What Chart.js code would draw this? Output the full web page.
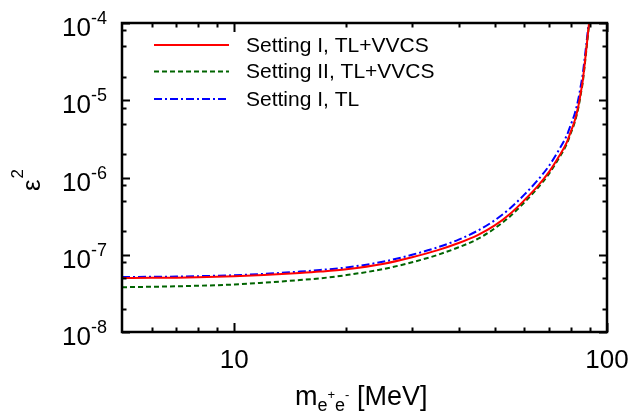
<!DOCTYPE html>
<html>
<head>
<meta charset="utf-8">
<script src="https://cdn.jsdelivr.net/npm/chart.js@4/dist/chart.umd.min.js"></script>
<style>
  body { margin: 0; background: #fff; }
  #wrap { width: 634px; height: 416px; }
</style>
</head>
<body>
<div id="wrap"><canvas id="chart"></canvas></div>
<script>
// m_e+e- in MeV
var masses = [5, 6, 7, 8, 10, 12, 15, 17, 20, 25, 30, 35, 40, 45, 50, 55, 60, 65, 70, 74, 78, 80, 82, 84, 85, 86, 87, 88, 89, 89.6, 90];

// epsilon^2 values
var setting1Full = [5.0e-8, 5.02e-8, 5.05e-8, 5.1e-8, 5.25e-8, 5.45e-8, 5.8e-8, 6.05e-8, 6.5e-8, 7.6e-8, 9.3e-8, 1.14e-7, 1.42e-7, 1.8e-7, 2.4e-7, 3.4e-7, 5.07e-7, 7.6e-7, 1.19e-6, 1.81e-6, 2.85e-6, 3.96e-6, 5.5e-6, 8.9e-6, 1.24e-5, 1.73e-5, 2.77e-5, 4.6e-5, 7.7e-5, 1.05e-4, 1.4e-4];
var setting2Full = [3.8e-8, 3.85e-8, 3.9e-8, 3.97e-8, 4.12e-8, 4.35e-8, 4.7e-8, 4.95e-8, 5.45e-8, 6.5e-8, 8.0e-8, 9.9e-8, 1.25e-7, 1.6e-7, 2.2e-7, 3.15e-7, 4.75e-7, 7.2e-7, 1.13e-6, 1.72e-6, 2.72e-6, 3.78e-6, 5.25e-6, 8.5e-6, 1.18e-5, 1.65e-5, 2.64e-5, 4.4e-5, 7.35e-5, 1.0e-4, 1.35e-4];
var setting1TL = [5.15e-8, 5.18e-8, 5.22e-8, 5.28e-8, 5.43e-8, 5.65e-8, 6.05e-8, 6.35e-8, 6.85e-8, 8.1e-8, 1.0e-7, 1.24e-7, 1.57e-7, 2.05e-7, 2.8e-7, 4.0e-7, 6.0e-7, 9.1e-7, 1.43e-6, 2.2e-6, 3.5e-6, 4.85e-6, 6.8e-6, 1.1e-5, 1.52e-5, 2.1e-5, 3.3e-5, 5.3e-5, 8.6e-5, 1.15e-4, 1.5e-4];

var xMajor = [10, 100];
var xMinor = [6, 7, 8, 9, 20, 30, 40, 50, 60, 70, 80, 90];
var yMajor = [1e-8, 1e-7, 1e-6, 1e-5, 1e-4];
var yMinorMult = [2, 5, 8];

function pts(vals) {
  return masses.map(function (m, i) { return { x: m, y: vals[i] }; });
}

var font = "'Liberation Sans', Arial, sans-serif";

var frame = {
  id: "frame",
  afterDraw: function (chart) {
    var c = chart.ctx, a = chart.chartArea;
    var xs = chart.scales.x, ys = chart.scales.y;
    c.save();
    c.strokeStyle = "#000";
    c.fillStyle = "#000";
    c.lineWidth = 2;
    c.beginPath();
    function tickX(v, len) {
      var p = Math.round(xs.getPixelForValue(v)) + 0.5;
      c.moveTo(p, a.bottom); c.lineTo(p, a.bottom - len);
      c.moveTo(p, a.top); c.lineTo(p, a.top + len);
    }
    function tickY(v, len) {
      var p = Math.round(ys.getPixelForValue(v)) + 0.5;
      c.moveTo(a.left, p); c.lineTo(a.left + len, p);
      c.moveTo(a.right, p); c.lineTo(a.right - len, p);
    }
    xMajor.forEach(function (v) { tickX(v, 9); });
    xMinor.forEach(function (v) { tickX(v, 4.5); });
    yMajor.forEach(function (v, i) {
      tickY(v, 8);
      if (i < yMajor.length - 1) yMinorMult.forEach(function (k) { tickY(v * k, 4.5); });
    });
    c.stroke();
    c.lineWidth = 2.5;
    c.strokeRect(a.left, a.top, a.right - a.left, a.bottom - a.top);

    // y tick labels 10^n
    c.textBaseline = "alphabetic";
    yMajor.forEach(function (v) {
      var p = ys.getPixelForValue(v);
      var exp = String(Math.round(Math.log10(v)));
      c.font = "18px " + font;
      var ew = c.measureText(exp).width;
      c.textAlign = "left";
      c.fillText(exp, 107 - ew, p + 1);
      c.font = "26px " + font;
      c.textAlign = "right";
      c.fillText("10", 107 - ew, p + 13);
    });
    // x tick labels
    c.font = "26px " + font;
    c.textAlign = "center";
    xMajor.forEach(function (v) {
      c.fillText(String(v), xs.getPixelForValue(v), 368);
    });

    // x title: m_{e+e-} [MeV]
    var x0 = 295, base = 405;
    c.textAlign = "left";
    c.font = "27px " + font;
    c.fillText("m", x0, base); x0 += c.measureText("m").width;
    c.font = "18px " + font;
    c.fillText("e", x0, base + 6); x0 += c.measureText("e").width;
    c.font = "13px " + font;
    c.fillText("+", x0, base - 6); x0 += c.measureText("+").width;
    c.font = "18px " + font;
    c.fillText("e", x0, base + 6); x0 += c.measureText("e").width;
    c.font = "13px " + font;
    c.fillText("-", x0, base - 6); x0 += c.measureText("-").width;
    c.font = "27px " + font;
    c.fillText(" [MeV]", x0, base);

    // y title: epsilon^2
    c.save();
    c.translate(40, 191);
    c.rotate(-Math.PI / 2);
    c.font = "26px " + font;
    c.fillText("\u03b5", 0, 0);
    var w = c.measureText("\u03b5").width;
    c.font = "17px " + font;
    c.fillText("2", w + 1, -17);
    c.restore();

    // legend
    c.font = "21px " + font;
    c.textBaseline = "middle";
    var rows = [45, 71.5, 99];
    chart.data.datasets.forEach(function (ds, i) {
      c.beginPath();
      c.strokeStyle = ds.borderColor;
      c.lineWidth = ds.borderWidth;
      c.setLineDash(ds.borderDash || []);
      c.moveTo(154, rows[i]); c.lineTo(229, rows[i]);
      c.stroke();
      c.setLineDash([]);
      c.fillStyle = "#000";
      c.fillText(ds.label, 246, rows[i] + 1);
    });
    c.restore();
  }
};

new Chart(document.getElementById("chart").getContext("2d"), {
  type: "line",
  data: {
    datasets: [
      { label: "Setting I, TL+VVCS", data: pts(setting1Full), borderColor: "#ff0000", borderWidth: 2 },
      { label: "Setting II, TL+VVCS", data: pts(setting2Full), borderColor: "#006400", borderWidth: 2, borderDash: [5, 3] },
      { label: "Setting I, TL", data: pts(setting1TL), borderColor: "#0000ff", borderWidth: 2, borderDash: [8, 3, 2, 3] }
    ]
  },
  options: {
    responsive: true,
    maintainAspectRatio: false,
    animation: false,
    layout: { padding: { left: 122, right: 27, top: 23, bottom: 84 } },
    elements: { point: { radius: 0 }, line: { cubicInterpolationMode: "monotone", fill: false } },
    datasets: { line: { clip: 0 } },
    plugins: { legend: { display: false }, tooltip: { enabled: false } },
    scales: {
      x: { type: "logarithmic", min: 5, max: 100, display: false },
      y: { type: "logarithmic", min: 1e-8, max: 1e-4, display: false }
    }
  },
  plugins: [frame]
});
</script>
</body>
</html>
